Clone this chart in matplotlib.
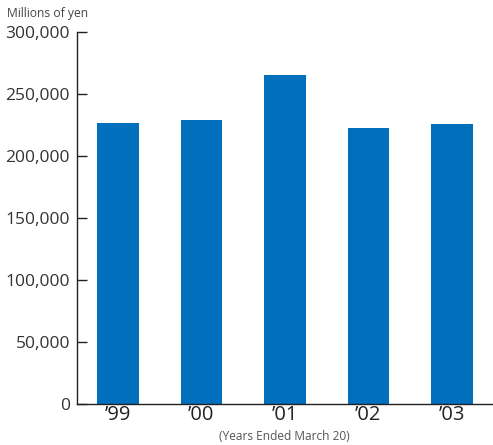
import matplotlib
matplotlib.use("Agg")
import matplotlib.pyplot as plt

years = ["\u201999", "\u201900", "\u201901", "\u201902", "\u201903"]
values = [226600, 229000, 265300, 222600, 225800]
yticks = [0, 50000, 100000, 150000, 200000, 250000, 300000]
ytick_labels = ["0", "50,000", "100,000", "150,000", "200,000", "250,000", "300,000"]

W, H = 493, 445
fig = plt.figure(figsize=(W / 100, H / 100), dpi=100)
ax = fig.add_axes([77 / W, 1 - 404 / H, (492 - 77) / W, (404 - 32) / H])

x = list(range(len(years)))
ax.bar(x, values, width=0.5, color="#0070BD")
ax.set_xlim(-0.49, 4.48)
ax.set_ylim(0, 300000)

ax.set_yticks(yticks)
ax.set_yticklabels(ytick_labels, fontsize=12.5, color="#333333", family="Open Sans")
ax.tick_params(axis="y", direction="in", length=7, width=1, color="#222222", pad=5)
ax.set_xticks(x)
ax.set_xticklabels(years, fontsize=14.5, color="#222222", family="Open Sans")
ax.tick_params(axis="x", length=0, pad=1)

for s in ["top", "right"]:
    ax.spines[s].set_visible(False)
for s in ["left", "bottom"]:
    ax.spines[s].set_color("#222222")
    ax.spines[s].set_linewidth(1)

fig.text(7 / W, 1 - 14 / H, "Millions of yen", fontsize=8.7, color="#444444",
         family="Open Sans", va="center", ha="left")
fig.text(284 / W, 1 - 437 / H, "(Years Ended March 20)", fontsize=8.6, color="#555555",
         family="Open Sans", va="center", ha="center")

fig.savefig("out.png", dpi=100)
